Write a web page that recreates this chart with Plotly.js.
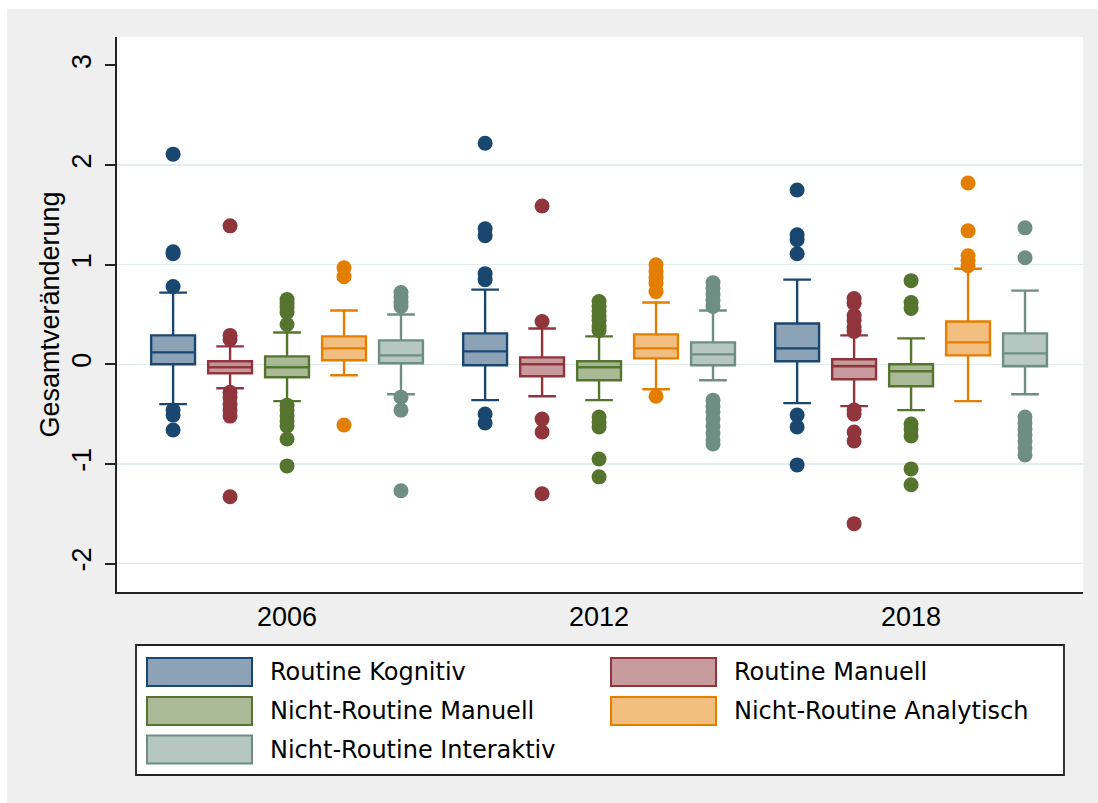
<!DOCTYPE html>
<html>
<head>
<meta charset="utf-8">
<script src="https://cdn.plot.ly/plotly-3.0.1.min.js"></script>
<style>
  html, body { margin: 0; padding: 0; background: #ffffff; }
  #chart { position: absolute; left: 7px; top: 9px; width: 1091px; height: 794px; }
</style>
</head>
<body>
<div id="chart"></div>
<script>
// ---------- data ----------
const years = ['2006', '2012', '2018'];
const seriesNames = ['Routine Kognitiv', 'Routine Manuell', 'Nicht-Routine Manuell',
                     'Nicht-Routine Analytisch', 'Nicht-Routine Interaktiv'];
// per series, per year
const q1Vals     = [[0.00, -0.01, 0.03], [-0.09, -0.12, -0.15], [-0.13, -0.16, -0.22], [0.04, 0.06, 0.09], [0.01, -0.01, -0.02]];
const medianVals = [[0.12, 0.13, 0.16], [-0.03, 0.00, -0.02], [-0.03, -0.03, -0.07], [0.16, 0.16, 0.22], [0.09, 0.10, 0.11]];
const q3Vals     = [[0.29, 0.31, 0.41], [0.03, 0.07, 0.05], [0.08, 0.03, 0.00], [0.28, 0.30, 0.43], [0.24, 0.22, 0.31]];
const lowerVals  = [[-0.40, -0.36, -0.39], [-0.24, -0.32, -0.42], [-0.37, -0.36, -0.46], [-0.11, -0.25, -0.37], [-0.30, -0.16, -0.30]];
const upperVals  = [[0.72, 0.75, 0.85], [0.18, 0.36, 0.29], [0.32, 0.28, 0.26], [0.54, 0.62, 0.96], [0.50, 0.54, 0.74]];
const outlierVals = [
  [[2.11, 1.13, 1.11, 0.78, -0.46, -0.51, -0.66],
   [2.22, 1.36, 1.29, 0.91, 0.85, -0.50, -0.59],
   [1.75, 1.30, 1.25, 1.11, -0.51, -0.63, -1.01]],
  [[1.39, 0.29, 0.25, -0.28, -0.33, -0.40, -0.46, -0.52, -1.33],
   [1.59, 0.43, -0.55, -0.68, -1.30],
   [0.66, 0.61, 0.49, 0.44, 0.37, 0.33, -0.46, -0.50, -0.68, -0.77, -1.60]],
  [[0.65, 0.61, 0.57, 0.52, 0.40, -0.41, -0.46, -0.52, -0.57, -0.62, -0.75, -1.02],
   [0.63, 0.58, 0.53, 0.48, 0.44, 0.38, 0.34, -0.53, -0.58, -0.63, -0.95, -1.13],
   [0.84, 0.62, 0.56, -0.60, -0.65, -0.72, -1.05, -1.21]],
  [[0.97, 0.88, -0.61],
   [1.00, 0.93, 0.87, 0.81, 0.73, -0.32],
   [1.82, 1.34, 1.09, 1.04, 0.99]],
  [[0.72, 0.67, 0.62, 0.58, -0.33, -0.46, -1.27],
   [0.82, 0.76, 0.70, 0.64, 0.58, -0.36, -0.42, -0.48, -0.55, -0.62, -0.69, -0.76, -0.80],
   [1.37, 1.07, -0.53, -0.59, -0.65, -0.71, -0.77, -0.84, -0.91]]
];
const yTickVals = [-2, -1, 0, 1, 2, 3];
const yTickText = ['-2', '-1', '0', '1', '2', '3'];
const gridVals = [-2, -1, 0, 1, 2];

// ---------- styles ----------
const lineColors = ['#1a476f', '#90353b', '#55752f', '#e37e00', '#6e8e84'];
const fillColors = ['rgba(26,71,111,0.5)', 'rgba(144,53,59,0.5)', 'rgba(85,117,47,0.5)',
                    'rgba(227,126,0,0.5)', 'rgba(110,142,132,0.5)'];
const axisFont = { family: 'Liberation Sans, Arial, sans-serif', size: 27, color: '#000000' };
const legendFont = { family: 'DejaVu Sans, sans-serif', size: 24, color: '#000000' };

const traces = seriesNames.map((name, s) => ({
  type: 'box',
  name: name,
  x: years,
  q1: q1Vals[s],
  median: medianVals[s],
  q3: q3Vals[s],
  lowerfence: lowerVals[s],
  upperfence: upperVals[s],
  y: outlierVals[s],
  boxpoints: 'outliers',
  jitter: 0,
  pointpos: 0,
  whiskerwidth: 0.63,
  line: { color: lineColors[s], width: 2.4 },
  fillcolor: fillColors[s],
  marker: { color: lineColors[s], size: 15, opacity: 1, line: { width: 0 } },
  showlegend: false,
  hoverinfo: 'skip'
}));

// ---------- custom legend (paper coordinates from pixel layout) ----------
const W = 1091, H = 794;
const M = { l: 110, r: 15, t: 28, b: 211 };
const pw = W - M.l - M.r, ph = H - M.t - M.b;
const px = (x) => (x - 7 - M.l) / pw;          // page x -> paper
const py = (y) => (H - M.b - (y - 9)) / ph;    // page y -> paper

const shapes = [];
const annotations = [];
shapes.push({ type: 'rect', xref: 'paper', yref: 'paper',
  x0: px(136), x1: px(1064), y0: py(775), y1: py(645),
  fillcolor: '#ffffff', line: { color: '#222222', width: 1.8 }, layer: 'above' });
const colKeyX = [147, 611], colTextX = [268, 732];
const rowY = [672, 711, 749.5];
seriesNames.forEach((name, i) => {
  const c = i % 2, r = Math.floor(i / 2);
  shapes.push({ type: 'rect', xref: 'paper', yref: 'paper',
    x0: px(colKeyX[c]), x1: px(colKeyX[c] + 105), y0: py(rowY[r] + 14), y1: py(rowY[r] - 14),
    fillcolor: fillColors[i], line: { color: lineColors[i], width: 2 }, layer: 'above' });
  annotations.push({ xref: 'paper', yref: 'paper', x: px(colTextX[c]), y: py(rowY[r]),
    xanchor: 'left', yanchor: 'middle', text: name, showarrow: false, font: legendFont });
});

const layout = {
  width: W, height: H,
  margin: M,
  paper_bgcolor: '#efefef',
  plot_bgcolor: '#ffffff',
  boxmode: 'group',
  boxgap: 0.087,
  boxgroupgap: 0.23,
  showlegend: false,
  xaxis: {
    type: 'category',
    categoryarray: years,
    range: [-0.545, 2.551],
    showline: true, linecolor: '#222222', linewidth: 2,
    showgrid: false, zeroline: false,
    ticks: '', tickfont: axisFont, ticklabelstandoff: 0,
    fixedrange: true
  },
  yaxis: {
    range: [-2.286, 3.286],
    tickvals: yTickVals, ticktext: yTickText,
    tickangle: -90,
    ticks: 'outside', ticklen: 10, tickwidth: 2, tickcolor: '#222222',
    tickfont: axisFont, ticklabelstandoff: 3,
    showline: true, linecolor: '#222222', linewidth: 2,
    showgrid: false, zeroline: false,
    title: { text: 'Gesamtveränderung', font: axisFont, standoff: 0 },
    fixedrange: true
  },
  yaxis2: {
    overlaying: 'y',
    range: [-2.286, 3.286],
    tickvals: gridVals,
    showgrid: true, gridcolor: '#e3edef', gridwidth: 1.5,
    showticklabels: false, ticks: '', showline: false, zeroline: false,
    fixedrange: true
  },
  shapes: shapes,
  annotations: annotations
};

// invisible trace to activate yaxis2 grid
traces.push({ type: 'scatter', x: [years[0]], y: [0], yaxis: 'y2', mode: 'markers',
  marker: { opacity: 0 }, showlegend: false, hoverinfo: 'skip' });

Plotly.newPlot('chart', traces, layout, { displayModeBar: false, staticPlot: true });
</script>
</body>
</html>
